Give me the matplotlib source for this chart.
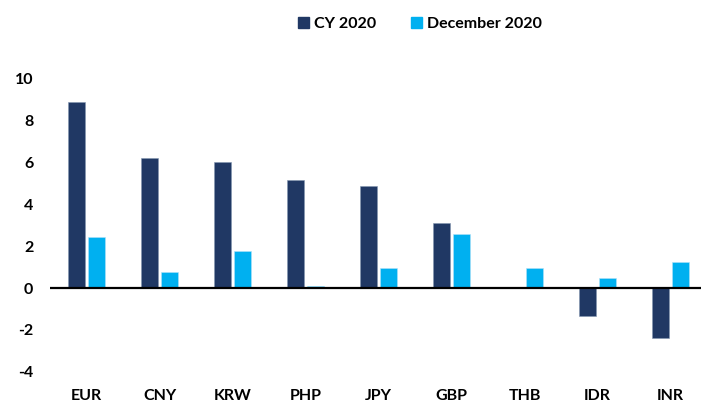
import matplotlib.pyplot as plt
import numpy as np
from matplotlib.patches import Patch

currencies = ["EUR", "CNY", "KRW", "PHP", "JPY", "GBP", "THB", "IDR", "INR"]
cy_2020 = [8.91, 6.23, 6.04, 5.15, 4.89, 3.11, 0.0, -1.35, -2.39]
dec_2020 = [2.42, 0.78, 1.77, 0.08, 0.97, 2.57, 0.97, 0.48, 1.26]
y_ticks = [-4, -2, 0, 2, 4, 6, 8, 10]

dark = "#203864"
light = "#00B0F0"
font = "Lato"
plt.rcParams["axes.unicode_minus"] = False

fig = plt.figure(figsize=(7.01, 4.03), dpi=100)
ax = fig.add_axes([50 / 701, 0.0777, 657 / 701, 0.7263])

x = np.arange(len(currencies))
w = 0.226
ax.bar(x - 0.14, cy_2020, w, color=dark, edgecolor="#8496b0", linewidth=0.4)
ax.bar(x + 0.14, dec_2020, w, color=light, edgecolor="#b0e0f8", linewidth=0.4)

ax.axhline(0, color="black", linewidth=1.6)
ax.set_xlim(-0.5, len(currencies) - 0.5)
ax.set_ylim(-4, 10)
ax.set_yticks(y_ticks)
ax.set_xticks(x)
ax.set_xticklabels(currencies)
ax.tick_params(length=0)
ax.tick_params(axis="y", pad=12)
ax.tick_params(axis="x", pad=12.5)
for s in ax.spines.values():
    s.set_visible(False)
for lab in ax.get_xticklabels() + ax.get_yticklabels():
    lab.set_fontfamily(font)
    lab.set_fontweight("bold")
    lab.set_fontsize(11.5)

handles = [Patch(color=dark, label="CY 2020"), Patch(color=light, label="December 2020")]
fig.legend(handles=handles, loc="center", bbox_to_anchor=(420 / 701, 1 - 24 / 403),
           ncol=2, frameon=False, handlelength=0.7, handleheight=0.7,
           handletextpad=0.3, columnspacing=2.2,
           prop={"family": font, "weight": "bold", "size": 11.5})

fig.savefig("out.png", dpi=100)
